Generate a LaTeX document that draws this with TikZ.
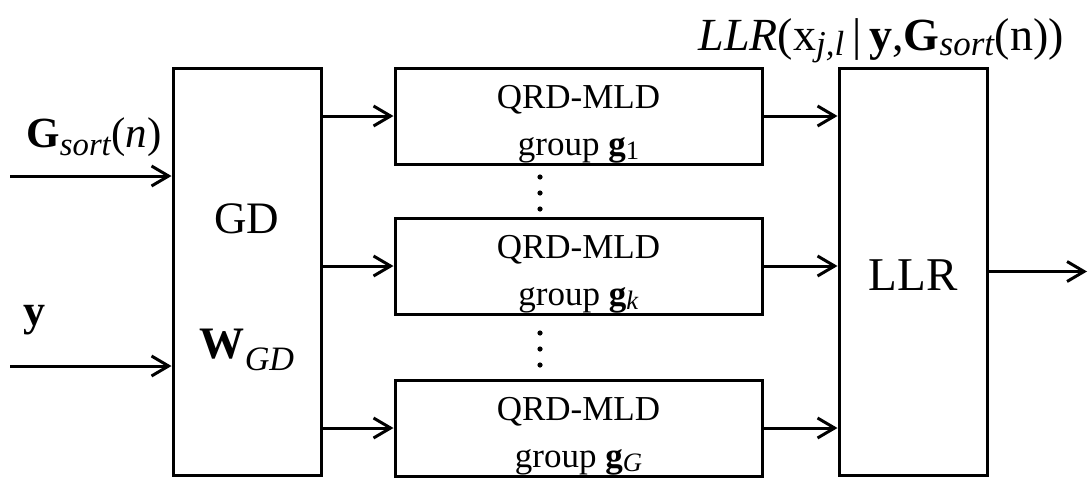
\documentclass[tikz,border=0pt]{standalone}
\usepackage{graphicx}
\usepackage{fontspec}
\setmainfont{Liberation Serif}
\usetikzlibrary{arrows.meta}

% lowered, smaller subscript
\newcommand\sbs[2][0.12em]{\raisebox{-#1}{\scalebox{0.76}{#2}}}

\begin{document}
\begin{tikzpicture}[x=0.5pt,y=-0.5pt,line width=1.5pt,
    blk/.style={draw,inner sep=0pt},
    txt/.style={inner sep=0pt,anchor=base},
    arr/.style={-{Straight Barb[length=8.5pt,width=10pt,line width=1.5pt]}}]
    \useasboundingbox (0,0) rectangle (1092,477);
    \def\fs#1{\fontsize{#1}{#1}\selectfont}

    % Big blocks
    \node[blk,minimum width=74pt,minimum height=203.5pt] (gd) at (247,271.5) {};
    \node[blk,minimum width=74pt,minimum height=203.5pt] (llr) at (913,271.5) {};
    \node[txt,font=\fs{22.5}] (gdname) at (247,233) {GD};
    \node[txt,font=\fs{22.5}] (wgd) at (247,358) {\textbf{W}\sbs[0.27em]{\textit{GD}}};
    \node[txt,font=\fs{23.5}] (llrname) at (913,290) {LLR};

    % QRD-MLD blocks
    \foreach \n/\y/\s in {1/116/1, 2/266/\textit{k}, 3/428/\textit{G}} {
        \node[blk,minimum width=183.5pt,minimum height=48pt] (q\n) at (578.5,\y) {};
        \path (q\n.center) ++(0,-8) node[txt,font=\fs{17.5}] (t\n) {QRD-MLD};
        \path (q\n.center) ++(0,39) node[txt,font=\fs{17.5}] (g\n) {group \textbf{g}\sbs{\s}};
        \draw[arr] (gd.east |- q\n.west) -- (q\n.west);
        \draw[arr] (q\n.east) -- (q\n.east -| llr.west);
    }

    % Dots between blocks
    \foreach \y in {177,193,209,333,349,365} {
        \fill (540,\y) circle(1.3pt);
    }

    % Inputs
    \coordinate (in1) at (10,176);
    \coordinate (in2) at (10,366);
    \draw[arr] (in1) -- (in1 -| gd.west);
    \draw[arr] (in2) -- (in2 -| gd.west);
    \node[txt,anchor=base west,font=\fs{21.5}] (gs) at (25,147) {\textbf{G}\sbs[0.2em]{\textit{sort}}(\textit{n})};
    \node[txt,anchor=base west,font=\fs{22}] (yv) at (22,325) {\textbf{y}};

    % Output
    \coordinate (out) at (1087,271.5);
    \draw[arr] (llr) -- (out);
    \node[txt,anchor=base west,font=\fs{23}] (lbl) at (697,50)
        {\textit{LLR}(x\sbs{\textit{j,l}}\hspace{4pt}|\hspace{4pt}\textbf{y},\textbf{G}\sbs{\textit{sort}}(n))};
\end{tikzpicture}
\end{document}
